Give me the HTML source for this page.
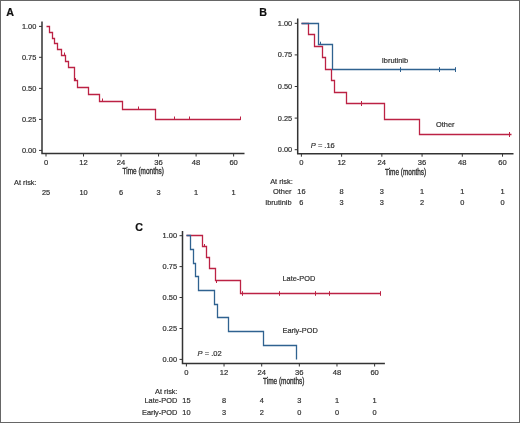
<!DOCTYPE html>
<html><head><meta charset="utf-8"><style>
html,body{margin:0;padding:0;background:#fff;}
body{width:520px;height:423px;overflow:hidden;}
svg{display:block;will-change:transform;font-family:"Liberation Sans",sans-serif;}
svg text{fill:#303030;stroke:#303030;stroke-width:0.2px;}
</style></head><body>
<svg width="520" height="423" viewBox="0 0 520 423">
<rect x="0" y="0" width="520" height="423" fill="#fff"/>
<text x="6.3" y="15.8" text-anchor="start" font-size="10.7" font-weight="bold" style="fill:#111;stroke:#111">A</text>
<path d="M42 21.5V153.5H244.5" fill="none" stroke="#333" stroke-width="1.5"/>
<path d="M39 26.4H42" stroke="#333" stroke-width="1"/>
<text x="36.3" y="28.9" text-anchor="end" font-size="7.4" >1.00</text>
<path d="M39 57.3H42" stroke="#333" stroke-width="1"/>
<text x="36.3" y="59.8" text-anchor="end" font-size="7.4" >0.75</text>
<path d="M39 88.4H42" stroke="#333" stroke-width="1"/>
<text x="36.3" y="90.9" text-anchor="end" font-size="7.4" >0.50</text>
<path d="M39 119.4H42" stroke="#333" stroke-width="1"/>
<text x="36.3" y="121.9" text-anchor="end" font-size="7.4" >0.25</text>
<path d="M39 150.4H42" stroke="#333" stroke-width="1"/>
<text x="36.3" y="152.9" text-anchor="end" font-size="7.4" >0.00</text>
<path d="M46.0 153.5V156.5" stroke="#333" stroke-width="1"/>
<text x="46.0" y="165.0" text-anchor="middle" font-size="7.6" >0</text>
<path d="M83.52 153.5V156.5" stroke="#333" stroke-width="1"/>
<text x="83.52" y="165.0" text-anchor="middle" font-size="7.6" >12</text>
<path d="M121.05 153.5V156.5" stroke="#333" stroke-width="1"/>
<text x="121.05" y="165.0" text-anchor="middle" font-size="7.6" >24</text>
<path d="M158.57 153.5V156.5" stroke="#333" stroke-width="1"/>
<text x="158.57" y="165.0" text-anchor="middle" font-size="7.6" >36</text>
<path d="M196.1 153.5V156.5" stroke="#333" stroke-width="1"/>
<text x="196.1" y="165.0" text-anchor="middle" font-size="7.6" >48</text>
<path d="M233.62 153.5V156.5" stroke="#333" stroke-width="1"/>
<text x="233.62" y="165.0" text-anchor="middle" font-size="7.6" >60</text>
<text x="143.25" y="174.3" text-anchor="middle" font-size="8.6" textLength="41.3" style="stroke-width:0.35px" lengthAdjust="spacingAndGlyphs">Time (months)</text>
<path d="M46.5 26.5H49.5V32.5H52.5V38.5H54.5V43.5H57.5V49.5H61.5V55.5H65.5V61.5H68.5V67.5H74.5V80.5H77.5V87.5H88.5V94.5H99.5V101.5H122.5V109.5H155.5V119.5H240.5" fill="none" stroke="#bc2244" stroke-width="1.3"/>
<path d="M64.5 52.5V56.0" stroke="#bc2244" stroke-width="1"/>
<path d="M75.5 78.0V81.0" stroke="#bc2244" stroke-width="1"/>
<path d="M102.5 98.5V102.0" stroke="#bc2244" stroke-width="1"/>
<path d="M138.5 106.5V110.0" stroke="#bc2244" stroke-width="1"/>
<path d="M174.5 116.5V120.0" stroke="#bc2244" stroke-width="1"/>
<path d="M189.5 116.5V120.0" stroke="#bc2244" stroke-width="1"/>
<path d="M240.5 116.5V120.0" stroke="#bc2244" stroke-width="1"/>
<text x="14" y="185.3" text-anchor="start" font-size="7.4" >At risk:</text>
<text x="46.0" y="194.7" text-anchor="middle" font-size="7.4" >25</text>
<text x="83.52" y="194.7" text-anchor="middle" font-size="7.4" >10</text>
<text x="121.05" y="194.7" text-anchor="middle" font-size="7.4" >6</text>
<text x="158.57" y="194.7" text-anchor="middle" font-size="7.4" >3</text>
<text x="196.1" y="194.7" text-anchor="middle" font-size="7.4" >1</text>
<text x="233.62" y="194.7" text-anchor="middle" font-size="7.4" >1</text>
<text x="259.3" y="15.6" text-anchor="start" font-size="10.7" font-weight="bold" style="fill:#111;stroke:#111">B</text>
<path d="M297.7 18.5V153.7H513.5" fill="none" stroke="#333" stroke-width="1.5"/>
<path d="M294.7 23.3H297.7" stroke="#333" stroke-width="1"/>
<text x="292.2" y="25.8" text-anchor="end" font-size="7.4" >1.00</text>
<path d="M294.7 54.9H297.7" stroke="#333" stroke-width="1"/>
<text x="292.2" y="57.4" text-anchor="end" font-size="7.4" >0.75</text>
<path d="M294.7 86.5H297.7" stroke="#333" stroke-width="1"/>
<text x="292.2" y="89.0" text-anchor="end" font-size="7.4" >0.50</text>
<path d="M294.7 118.1H297.7" stroke="#333" stroke-width="1"/>
<text x="292.2" y="120.6" text-anchor="end" font-size="7.4" >0.25</text>
<path d="M294.7 149.7H297.7" stroke="#333" stroke-width="1"/>
<text x="292.2" y="152.2" text-anchor="end" font-size="7.4" >0.00</text>
<path d="M301.4 153.7V156.7" stroke="#333" stroke-width="1"/>
<text x="301.4" y="165.0" text-anchor="middle" font-size="7.6" >0</text>
<path d="M341.62 153.7V156.7" stroke="#333" stroke-width="1"/>
<text x="341.62" y="165.0" text-anchor="middle" font-size="7.6" >12</text>
<path d="M381.85 153.7V156.7" stroke="#333" stroke-width="1"/>
<text x="381.85" y="165.0" text-anchor="middle" font-size="7.6" >24</text>
<path d="M422.07 153.7V156.7" stroke="#333" stroke-width="1"/>
<text x="422.07" y="165.0" text-anchor="middle" font-size="7.6" >36</text>
<path d="M462.3 153.7V156.7" stroke="#333" stroke-width="1"/>
<text x="462.3" y="165.0" text-anchor="middle" font-size="7.6" >48</text>
<path d="M502.52 153.7V156.7" stroke="#333" stroke-width="1"/>
<text x="502.52" y="165.0" text-anchor="middle" font-size="7.6" >60</text>
<text x="405.6" y="174.5" text-anchor="middle" font-size="8.6" textLength="41.3" style="stroke-width:0.35px" lengthAdjust="spacingAndGlyphs">Time (months)</text>
<path d="M301.5 23.5H308.5V34.5H314.5V46.5H322.5V57.5H325.5V69.5H331.5V80.5H334.5V92.5H346.5V103.5H384.5V119.5H419.5V134.5H511.5" fill="none" stroke="#bc2244" stroke-width="1.3"/>
<path d="M301.5 23.5H318.5V44.5H332.5V69.5H455.5" fill="none" stroke="#2f6290" stroke-width="1.3"/>
<path d="M320.5 41.7V45.0" stroke="#2f6290" stroke-width="1"/>
<path d="M400.5 67.2V72.0" stroke="#2f6290" stroke-width="1"/>
<path d="M439.5 67.2V72.0" stroke="#2f6290" stroke-width="1"/>
<path d="M455.5 67.2V72.0" stroke="#2f6290" stroke-width="1"/>
<path d="M361.5 101.0V106.0" stroke="#bc2244" stroke-width="1"/>
<path d="M509.5 132.0V137.0" stroke="#bc2244" stroke-width="1"/>
<text x="270.2" y="183.8" text-anchor="start" font-size="7.4" >At risk:</text>
<text x="291.5" y="193.7" text-anchor="end" font-size="7.4" >Other</text>
<text x="291.5" y="204.7" text-anchor="end" font-size="7.4" >Ibrutinib</text>
<text x="301.4" y="193.7" text-anchor="middle" font-size="7.4" >16</text>
<text x="301.4" y="204.7" text-anchor="middle" font-size="7.4" >6</text>
<text x="341.62" y="193.7" text-anchor="middle" font-size="7.4" >8</text>
<text x="341.62" y="204.7" text-anchor="middle" font-size="7.4" >3</text>
<text x="381.85" y="193.7" text-anchor="middle" font-size="7.4" >3</text>
<text x="381.85" y="204.7" text-anchor="middle" font-size="7.4" >3</text>
<text x="422.07" y="193.7" text-anchor="middle" font-size="7.4" >1</text>
<text x="422.07" y="204.7" text-anchor="middle" font-size="7.4" >2</text>
<text x="462.3" y="193.7" text-anchor="middle" font-size="7.4" >1</text>
<text x="462.3" y="204.7" text-anchor="middle" font-size="7.4" >0</text>
<text x="502.52" y="193.7" text-anchor="middle" font-size="7.4" >1</text>
<text x="502.52" y="204.7" text-anchor="middle" font-size="7.4" >0</text>
<text x="310.8" y="148.1" text-anchor="start" font-size="7.5" ><tspan font-style="italic">P</tspan> = .16</text>
<text x="408.1" y="62.7" text-anchor="end" font-size="7.4" >Ibrutinib</text>
<text x="454.5" y="127.3" text-anchor="end" font-size="7.4" >Other</text>
<text x="135.2" y="230.8" text-anchor="start" font-size="10.7" font-weight="bold" style="fill:#111;stroke:#111">C</text>
<path d="M182.5 231V363.5H384.9" fill="none" stroke="#333" stroke-width="1.5"/>
<path d="M179.5 235.7H182.5" stroke="#333" stroke-width="1"/>
<text x="177.0" y="238.2" text-anchor="end" font-size="7.4" >1.00</text>
<path d="M179.5 266.6H182.5" stroke="#333" stroke-width="1"/>
<text x="177.0" y="269.1" text-anchor="end" font-size="7.4" >0.75</text>
<path d="M179.5 297.5H182.5" stroke="#333" stroke-width="1"/>
<text x="177.0" y="300.0" text-anchor="end" font-size="7.4" >0.50</text>
<path d="M179.5 328.5H182.5" stroke="#333" stroke-width="1"/>
<text x="177.0" y="331.0" text-anchor="end" font-size="7.4" >0.25</text>
<path d="M179.5 359.4H182.5" stroke="#333" stroke-width="1"/>
<text x="177.0" y="361.9" text-anchor="end" font-size="7.4" >0.00</text>
<path d="M186.4 363.5V366.5" stroke="#333" stroke-width="1"/>
<text x="186.4" y="374.5" text-anchor="middle" font-size="7.6" >0</text>
<path d="M224.04 363.5V366.5" stroke="#333" stroke-width="1"/>
<text x="224.04" y="374.5" text-anchor="middle" font-size="7.6" >12</text>
<path d="M261.69 363.5V366.5" stroke="#333" stroke-width="1"/>
<text x="261.69" y="374.5" text-anchor="middle" font-size="7.6" >24</text>
<path d="M299.33 363.5V366.5" stroke="#333" stroke-width="1"/>
<text x="299.33" y="374.5" text-anchor="middle" font-size="7.6" >36</text>
<path d="M336.98 363.5V366.5" stroke="#333" stroke-width="1"/>
<text x="336.98" y="374.5" text-anchor="middle" font-size="7.6" >48</text>
<path d="M374.62 363.5V366.5" stroke="#333" stroke-width="1"/>
<text x="374.62" y="374.5" text-anchor="middle" font-size="7.6" >60</text>
<text x="283.7" y="384.3" text-anchor="middle" font-size="8.6" textLength="41.3" style="stroke-width:0.35px" lengthAdjust="spacingAndGlyphs">Time (months)</text>
<path d="M186.5 235.5H202.5V246.5H206.5V257.5H209.5V268.5H215.5V280.5H240.5V293.5H380.5" fill="none" stroke="#bc2244" stroke-width="1.3"/>
<path d="M186.5 235.5H190.5V249.5H193.5V263.5H195.5V276.5H198.5V290.5H214.5V304.5H217.5V317.5H228.5V331.5H263.5V345.5H296.5V359.5" fill="none" stroke="#2f6290" stroke-width="1.3"/>
<path d="M204.5 244.0V247.0" stroke="#bc2244" stroke-width="1"/>
<path d="M216.5 280.0V283.0" stroke="#bc2244" stroke-width="1"/>
<path d="M242.5 291.2V295.8" stroke="#bc2244" stroke-width="1"/>
<path d="M279.5 291.2V295.8" stroke="#bc2244" stroke-width="1"/>
<path d="M315.5 291.2V295.8" stroke="#bc2244" stroke-width="1"/>
<path d="M329.5 291.2V295.8" stroke="#bc2244" stroke-width="1"/>
<path d="M380.5 291.2V295.8" stroke="#bc2244" stroke-width="1"/>
<text x="155" y="394" text-anchor="start" font-size="7.4" >At risk:</text>
<text x="177.3" y="403.4" text-anchor="end" font-size="7.4" >Late-POD</text>
<text x="177.3" y="414.7" text-anchor="end" font-size="7.4" >Early-POD</text>
<text x="186.4" y="403.4" text-anchor="middle" font-size="7.4" >15</text>
<text x="186.4" y="414.7" text-anchor="middle" font-size="7.4" >10</text>
<text x="224.04" y="403.4" text-anchor="middle" font-size="7.4" >8</text>
<text x="224.04" y="414.7" text-anchor="middle" font-size="7.4" >3</text>
<text x="261.69" y="403.4" text-anchor="middle" font-size="7.4" >4</text>
<text x="261.69" y="414.7" text-anchor="middle" font-size="7.4" >2</text>
<text x="299.33" y="403.4" text-anchor="middle" font-size="7.4" >3</text>
<text x="299.33" y="414.7" text-anchor="middle" font-size="7.4" >0</text>
<text x="336.98" y="403.4" text-anchor="middle" font-size="7.4" >1</text>
<text x="336.98" y="414.7" text-anchor="middle" font-size="7.4" >0</text>
<text x="374.62" y="403.4" text-anchor="middle" font-size="7.4" >1</text>
<text x="374.62" y="414.7" text-anchor="middle" font-size="7.4" >0</text>
<text x="197.6" y="355.8" text-anchor="start" font-size="7.5" ><tspan font-style="italic">P</tspan> = .02</text>
<text x="315.3" y="281" text-anchor="end" font-size="7.4" >Late-POD</text>
<text x="317.8" y="333.2" text-anchor="end" font-size="7.4" >Early-POD</text>
<rect x="0.5" y="0.5" width="519" height="422" fill="none" stroke="#666" stroke-width="1"/>
</svg>
</body></html>
